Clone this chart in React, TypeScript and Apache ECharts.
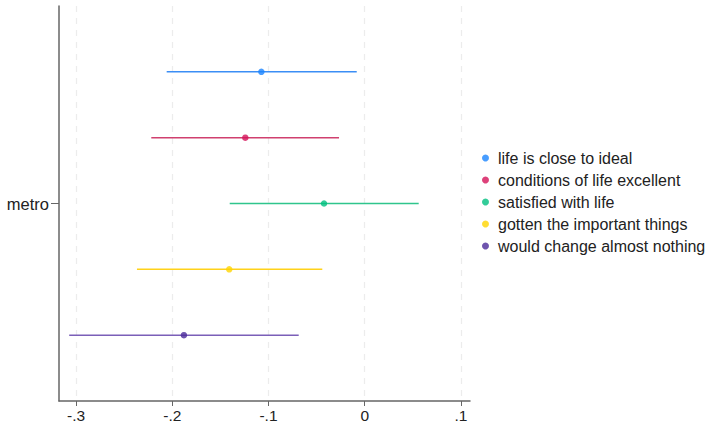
import React, { useEffect, useRef } from "react";
import * as echarts from "echarts";

const seriesNames = [
  "life is close to ideal",
  "conditions of life excellent",
  "satisfied with life",
  "gotten the important things",
  "would change almost nothing",
];
const estimates = [-0.1074, -0.1241, -0.0423, -0.1408, -0.1879];
const lower = [-0.2058, -0.2218, -0.1403, -0.2367, -0.3071];
const upper = [-0.0083, -0.0267, 0.0561, -0.0441, -0.0686];
const rowPos = [5, 4, 3, 2, 1];
const dotColors = ["#1a85ff", "#d41159", "#00bf7f", "#ffd400", "#4b2a9a"];
const lineColors = ["#3b8ef5", "#d0406f", "#2fc58d", "#ffd21a", "#7b5fb8"];
const xTicks = [-0.3, -0.2, -0.1, 0, 0.1];
const categories = ["metro"];

export default function App() {
  const ref = useRef<HTMLDivElement>(null);
  useEffect(() => {
    if (!ref.current) return;
    const chart = echarts.init(ref.current, null, { renderer: "svg" });
    const fmt = (v: number) => {
      if (Math.abs(v) < 1e-9) return "0";
      const s = v.toFixed(1);
      return s.replace("0.", ".");
    };
    const series: any[] = [];
    seriesNames.forEach((n, i) => {
      series.push({
        name: "ci" + i,
        type: "line",
        xAxisIndex: 0,
        yAxisIndex: 1,
        data: [
          [lower[i], rowPos[i]],
          [upper[i], rowPos[i]],
        ],
        symbol: "none",
        lineStyle: { color: lineColors[i], width: 1.5 },
        silent: true,
        z: 2,
      });
    });
    seriesNames.forEach((n, i) => {
      series.push({
        name: n,
        type: "scatter",
        xAxisIndex: 0,
        yAxisIndex: 1,
        data: [[estimates[i], rowPos[i]]],
        symbol: "circle",
        symbolSize: 6.5,
        itemStyle: { color: dotColors[i] },
        z: 3,
      });
    });
    chart.setOption({
      animation: false,
      textStyle: { fontFamily: "Liberation Sans, Arial, sans-serif" },
      grid: { left: 59, right: 236, top: 6, bottom: 22 },
      legend: {
        data: seriesNames.map((n, i) => ({ name: n, itemStyle: { color: dotColors[i] } })),
        orient: "vertical",
        left: 482,
        top: 150,
        padding: 0,
        icon: "circle",
        itemWidth: 7,
        itemHeight: 7,
        itemGap: 6,
        textStyle: {
          fontSize: 16,
          color: "#222",
          lineHeight: 16,
          padding: [0, 0, 0, 4],
          fontFamily: "Liberation Sans, Arial, sans-serif",
        },
        selectedMode: false,
      },
      xAxis: [
        {
          type: "value",
          min: -0.3177,
          max: 0.1094,
          axisLine: { show: true, onZero: false, lineStyle: { color: "#666", width: 1.5 } },
          axisTick: {
            show: true,
            length: 5,
            lineStyle: { color: "#666" },
            customValues: xTicks,
          },
          axisLabel: {
            fontSize: 15.5,
            color: "#222",
            margin: 6,
            customValues: xTicks,
            formatter: fmt,
          },
          splitLine: {
            show: true,
            customValues: xTicks,
            lineStyle: { color: "#ececec", type: [6, 6], width: 1.2 },
          },
        },
      ],
      yAxis: [
        {
          type: "category",
          data: categories,
          position: "left",
          axisLine: { show: true, onZero: false, lineStyle: { color: "#666", width: 1.5 } },
          axisTick: { show: true, length: 8, alignWithLabel: true, lineStyle: { color: "#666" } },
          axisLabel: { fontSize: 16.5, color: "#222", margin: 10 },
          splitLine: { show: false },
        },
        {
          type: "value",
          min: 0,
          max: 6,
          show: false,
          axisLine: { onZero: false },
          splitLine: { show: false },
        },
      ],
      series,
    });
    return () => chart.dispose();
  }, []);
  return <div ref={ref} style={{ width: 706, height: 423, position: "absolute", left: 0, top: 0 }} />;
}
